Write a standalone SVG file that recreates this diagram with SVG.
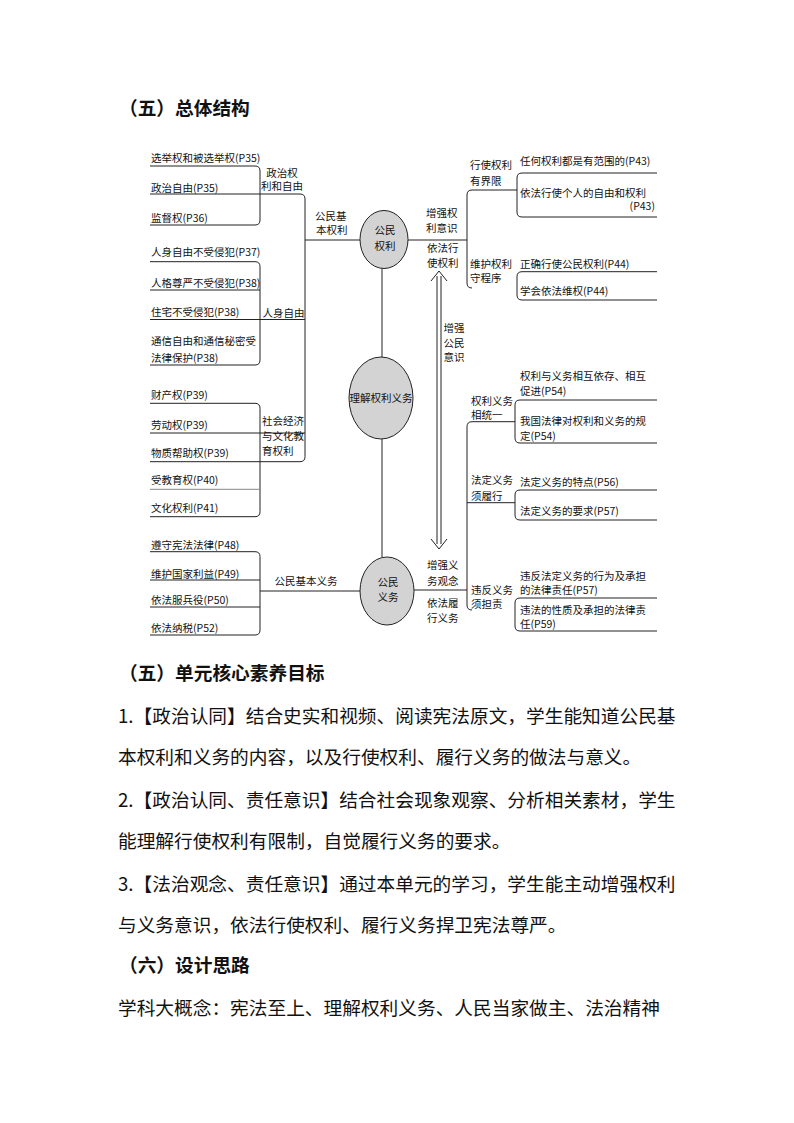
<svg xmlns="http://www.w3.org/2000/svg" width="794" height="1123" viewBox="0 0 794 1123">
<style>
text{font-family:"Noto Sans CJK SC","Noto Sans",sans-serif;fill:#111}
.t{font-size:10.5px}
.c{text-anchor:middle}
.e{text-anchor:end}
.h{font-size:18.7px;font-weight:bold}
.b{font-size:18.7px}
.ln{fill:none;stroke:#222;stroke-width:1}
.gr{fill:none;stroke:#888;stroke-width:1}
.ell{fill:#d3d3d3;stroke:#222;stroke-width:1}
</style>
<rect width="794" height="1123" fill="#fff"/>
<text class="h" x="119" y="115">（五）总体结构</text>

<g id="connectors">
<path class="ln" d="M150,166 H255 Q260,166 260,171 V220 Q260,225 255,225 H150"/>
<path class="ln" d="M150,194 H300 Q305,194 305,199 V456.7 Q305,461.7 300,461.7 H150"/>
<path class="ln" d="M150,261.7 H255 Q260,261.7 260,266.7 V360 Q260,365 255,365 H150"/>
<path class="ln" d="M150,290 H260 M150,319.5 H305"/>
<path class="ln" d="M150,403.3 H255 Q260,403.3 260,408.3 V511.7 Q260,516.7 255,516.7 H150"/>
<path class="ln" d="M150,433 H305"/>
<path class="gr" d="M150,489.3 H260"/>
<path class="ln" d="M305,240 H360"/>
<path class="ln" d="M150,551.7 H255 Q260,551.7 260,556.7 V630 Q260,635 255,635 H150"/>
<path class="ln" d="M150,580 H260 M150,607 H260 M260,591 H360"/>
<path class="ln" d="M408,240 H467"/>
<path class="ln" d="M517,190 H472 Q467,190 467,195 V283 Q467,288 472,288"/>
<path class="ln" d="M657,173 H522 Q517,173 517,178 V212 Q517,217 522,217 H657"/>
<path class="ln" d="M657,271.7 H522 Q517,271.7 517,276.7 V295 Q517,300 522,300 H657"/>
<path class="ln" d="M414,590 H467"/>
<path class="ln" d="M515,421.7 H472 Q467,421.7 467,426.7 V605 Q467,610 472,610"/>
<path class="ln" d="M467,502.7 H515"/>
<path class="ln" d="M657,400 H520 Q515,400 515,405 V438 Q515,443 520,443 H657"/>
<path class="ln" d="M657,490 H520 Q515,490 515,495 V515 Q515,520 520,520 H657"/>
<path class="ln" d="M657,598 H520 Q515,598 515,603 V626 Q515,631 520,631 H657"/>
<path class="ln" d="M382,268.5 V357 M382,439 V557"/>
<path class="ln" d="M437,276 V544 M441,276 V544 M431,281 L439,271 L447,281 M431,539 L439,549 L447,539"/>
</g>

<g id="node-rights">
<ellipse class="ell" cx="384" cy="239.5" rx="24" ry="29"/>
<text class="t c" x="385" y="234">公民</text>
<text class="t c" x="385" y="250">权利</text>
</g>
<g id="node-center">
<ellipse class="ell" cx="381" cy="398" rx="32" ry="41"/>
<text class="t c" x="381" y="402">理解权利义务</text>
</g>
<g id="node-duties">
<ellipse class="ell" cx="387" cy="591" rx="27" ry="34"/>
<text class="t c" x="388" y="586">公民</text>
<text class="t c" x="388" y="601">义务</text>
</g>

<g id="node-political">
<text class="t" x="151" y="162">选举权和被选举权(P35)</text>
<text class="t" x="151" y="191.5">政治自由(P35)</text>
<text class="t" x="151" y="222">监督权(P36)</text>
<text class="t c" x="282" y="176.5">政治权</text>
<text class="t c" x="282" y="190">利和自由</text>
</g>
<g id="node-personal">
<text class="t" x="151" y="256">人身自由不受侵犯(P37)</text>
<text class="t" x="151" y="286.5">人格尊严不受侵犯(P38)</text>
<text class="t" x="151" y="315.5">住宅不受侵犯(P38)</text>
<text class="t" x="151" y="345">通信自由和通信秘密受</text>
<text class="t" x="151" y="361.5">法律保护(P38)</text>
<text class="t c" x="283.5" y="316.5">人身自由</text>
</g>
<g id="node-social">
<text class="t" x="151" y="398.5">财产权(P39)</text>
<text class="t" x="151" y="428.5">劳动权(P39)</text>
<text class="t" x="151" y="456.5">物质帮助权(P39)</text>
<text class="t" x="151" y="483.5">受教育权(P40)</text>
<text class="t" x="151" y="511.5">文化权利(P41)</text>
<text class="t" x="262" y="425">社会经济</text>
<text class="t" x="262" y="440">与文化教</text>
<text class="t" x="262" y="455">育权利</text>
</g>
<g id="node-basic-rights-label">
<text class="t" x="315" y="220">公民基</text>
<text class="t" x="316" y="233.5">本权利</text>
</g>
<g id="node-duty-items">
<text class="t" x="151" y="549">遵守宪法法律(P48)</text>
<text class="t" x="151" y="577.5">维护国家利益(P49)</text>
<text class="t" x="151" y="604">依法服兵役(P50)</text>
<text class="t" x="151" y="632">依法纳税(P52)</text>
<text class="t c" x="306" y="584.5">公民基本义务</text>
</g>
<g id="node-rights-right-labels">
<text class="t" x="426" y="216.5">增强权</text>
<text class="t" x="426" y="232">利意识</text>
<text class="t" x="427" y="251.5">依法行</text>
<text class="t" x="427" y="266.5">使权利</text>
</g>
<g id="node-awareness">
<text class="t c" x="454" y="331.5">增强</text>
<text class="t c" x="454" y="346.5">公民</text>
<text class="t c" x="454" y="361">意识</text>
</g>
<g id="node-duties-right-labels">
<text class="t" x="427" y="569">增强义</text>
<text class="t" x="427" y="584.5">务观念</text>
<text class="t" x="427" y="606.5">依法履</text>
<text class="t" x="427" y="621.5">行义务</text>
</g>
<g id="node-limits">
<text class="t" x="470" y="168.5">行使权利</text>
<text class="t" x="470" y="185">有界限</text>
<text class="t" x="520" y="165">任何权利都是有范围的(P43)</text>
<text class="t" x="520" y="196.5">依法行使个人的自由和权利</text>
<text class="t e" x="655" y="210">(P43)</text>
</g>
<g id="node-procedure">
<text class="t" x="470" y="268">维护权利</text>
<text class="t" x="470" y="282">守程序</text>
<text class="t" x="520" y="268">正确行使公民权利(P44)</text>
<text class="t" x="520" y="295">学会依法维权(P44)</text>
</g>
<g id="node-unity">
<text class="t" x="471" y="405">权利义务</text>
<text class="t" x="471" y="418.5">相统一</text>
<text class="t" x="520" y="380">权利与义务相互依存、相互</text>
<text class="t" x="520" y="395">促进(P54)</text>
<text class="t" x="520" y="425">我国法律对权利和义务的规</text>
<text class="t" x="520" y="440">定(P54)</text>
</g>
<g id="node-legal-duty">
<text class="t" x="471" y="483.5">法定义务</text>
<text class="t" x="471" y="500">须履行</text>
<text class="t" x="520" y="485.5">法定义务的特点(P56)</text>
<text class="t" x="520" y="515">法定义务的要求(P57)</text>
</g>
<g id="node-violation">
<text class="t" x="471" y="593.5">违反义务</text>
<text class="t" x="471" y="607.5">须担责</text>
<text class="t" x="520" y="579.5">违反法定义务的行为及承担</text>
<text class="t" x="520" y="593.5">的法律责任(P57)</text>
<text class="t" x="520" y="613.5">违法的性质及承担的法律责</text>
<text class="t" x="520" y="627.5">任(P59)</text>
</g>

<g id="body-text">
<text class="h" x="119" y="680">（五）单元核心素养目标</text>
<text class="b" x="118" y="723">1.【政治认同】结合史实和视频、阅读宪法原文，学生能知道公民基</text>
<text class="b" x="118" y="764">本权利和义务的内容，以及行使权利、履行义务的做法与意义。</text>
<text class="b" x="118" y="807">2.【政治认同、责任意识】结合社会现象观察、分析相关素材，学生</text>
<text class="b" x="118" y="848">能理解行使权利有限制，自觉履行义务的要求。</text>
<text class="b" x="118" y="891">3.【法治观念、责任意识】通过本单元的学习，学生能主动增强权利</text>
<text class="b" x="118" y="932">与义务意识，依法行使权利、履行义务捍卫宪法尊严。</text>
<text class="h" x="119" y="972">（六）设计思路</text>
<text class="b" x="118" y="1015">学科大概念：宪法至上、理解权利义务、人民当家做主、法治精神</text>
</g>
</svg>
